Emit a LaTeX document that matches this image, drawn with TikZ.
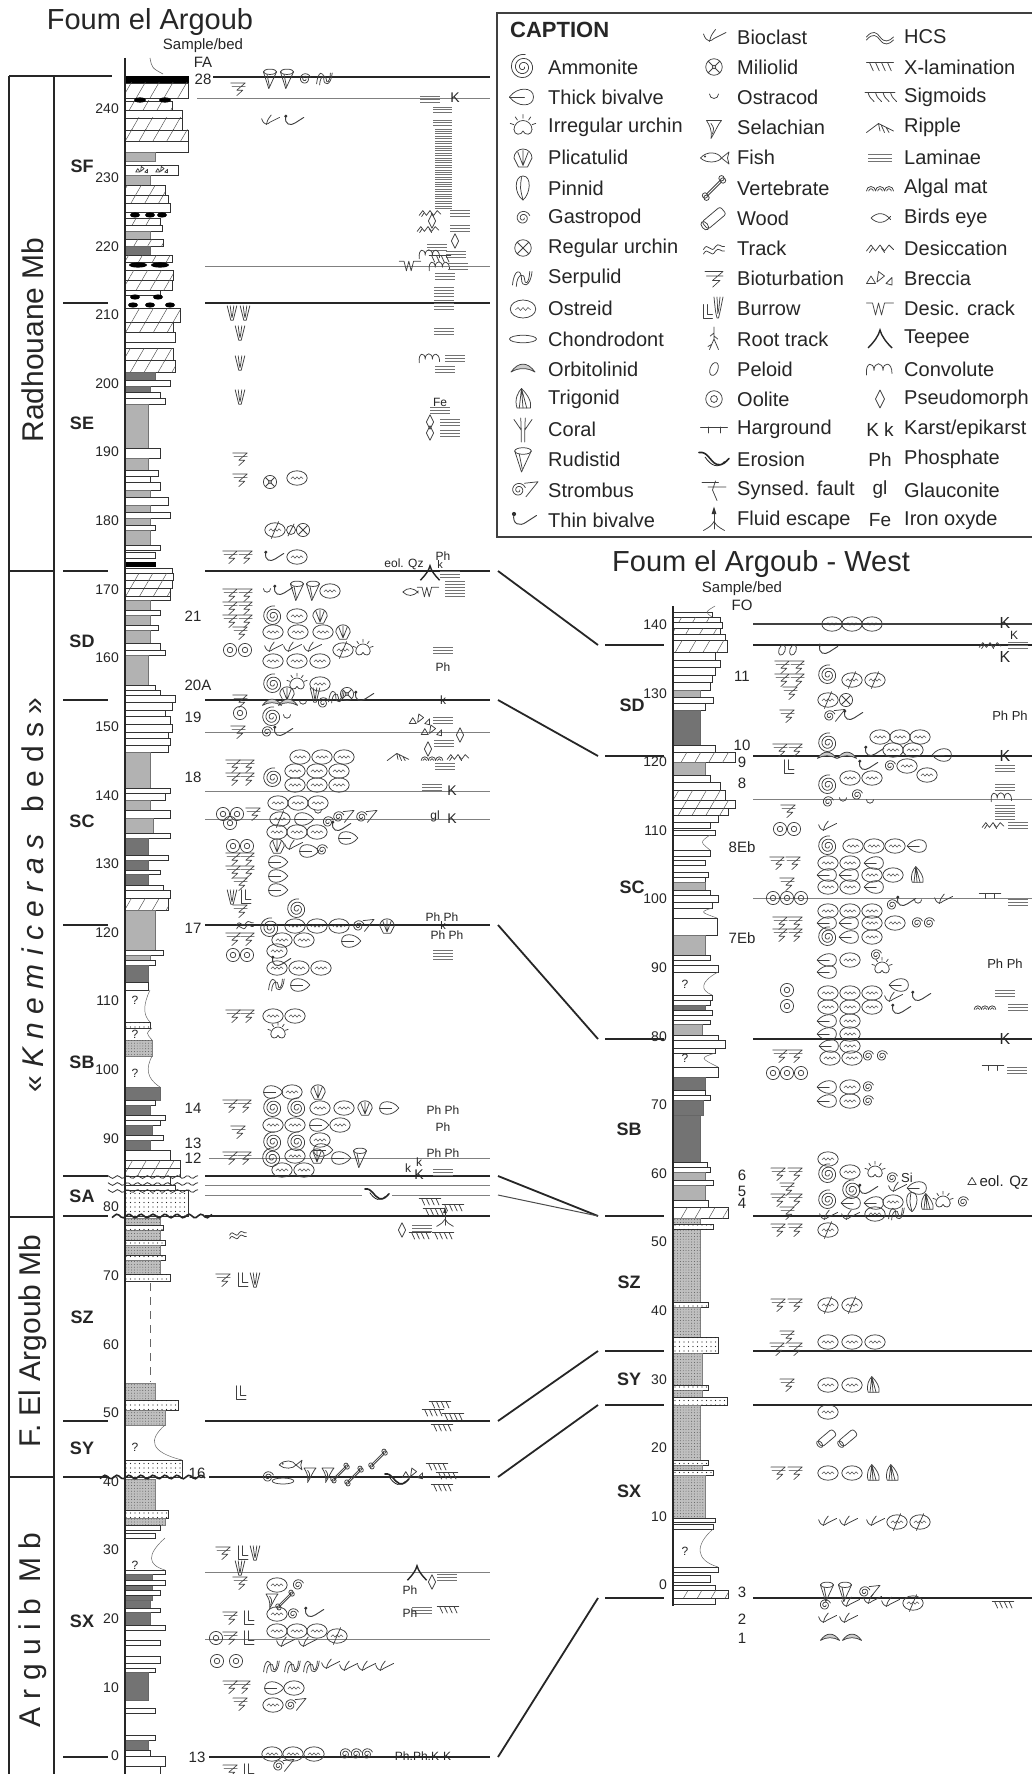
\documentclass[tikz,border=0pt]{standalone}
\usepackage{fontspec}
\setmainfont{Liberation Sans}
\usetikzlibrary{patterns.meta}
\newcommand\myfs[1]{\fontsize{#1}{#1}\selectfont}
\newcommand\symlist[1]{\foreach \kk/\a/\b in {#1}{\edef\mytmp{\noexpand\pic[scale=1.2] at (\a,\b) {\kk};}\mytmp}}
\newcommand\caplist[1]{\foreach \kk/\a/\b in {#1}{\edef\mytmp{\noexpand\pic[scale=1.5] at (\a,\b) {\kk};}\mytmp}}
\newcommand\bedlist[2]{\foreach \ya/\yb/\xc/\kk in {#2}{\edef\mytmp{\noexpand\path[bed\kk] (#1,\ya) rectangle (\xc,\yb);}\mytmp}}
\tikzset{
 sy/.style={draw=black!75,line width=0.75pt,line cap=round,line join=round},
 lamln/.style={draw=black!55,line width=0.6pt},
 thk/.style={draw=black!85,line width=2.4pt},
 thn/.style={draw=black!50,line width=0.8pt},
 dia/.style={draw=black!85,line width=1.8pt},
 bedL/.style={draw=black!80,line width=0.5pt,fill=white},
 bedM/.style={draw=black!55,line width=0.4pt,fill=black!30},
 bedN/.style={draw=black!60,line width=0.4pt,fill=black!55},
 bedD/.style={draw=black!80,line width=0.5pt,fill=white,postaction={pattern={Lines[angle=60,distance=12pt,line width=0.45pt]},pattern color=black!70}},
 bedS/.style={draw=black!80,line width=0.5pt,fill=white,postaction={pattern={Dots[distance=4.5pt,radius=0.55pt]},pattern color=black!85}},
 bedG/.style={draw=black!50,line width=0.4pt,fill=black!25,postaction={pattern={Dots[distance=2.8pt,radius=0.45pt]},pattern color=black!70}},
 bedK/.style={draw=black,fill=black},
 txt/.style={inner sep=0pt,text=black!85},
 ostr/.pic={\draw[sy] (0,0) ellipse [x radius=8.5,y radius=6];
   \draw[sy,line width=0.5pt] (-5,0.5) -- (-3.3,-1) -- (-1.7,1) -- (0,-1) -- (1.7,1) -- (3.3,-1) -- (5,0.5);},
 ostrs/.pic={\draw[sy] (0,0) ellipse [x radius=8.5,y radius=6];
   \draw[sy,line width=0.5pt] (-5,0.5) -- (-3.3,-1) -- (-1.7,1) -- (0,-1) -- (1.7,1) -- (3.3,-1) -- (5,0.5);
   \draw[sy] (-3,7) -- (3,-7);},
 ammo/.pic={\draw[sy] plot[domain=0:1000,samples=50,smooth,variable=\q] ({(1+7.5*\q/1000)*cos(\q)},{(1+7.5*\q/1000)*sin(\q)});},
 gast/.pic={\draw[sy] plot[domain=0:700,samples=30,smooth,variable=\q] ({(0.8+4*\q/700)*cos(\q)},{(0.8+4*\q/700)*sin(\q)});},
 tbiv/.pic={\draw[sy] (9,0) .. controls (4,-7) and (-7,-7) .. (-7,0) .. controls (-7,7) and (4,7) .. (9,0); \draw[sy] (-7,0) -- (3,0);},
 tbivL/.pic={\begin{scope}[xscale=-1]\draw[sy] (9,0) .. controls (4,-7) and (-7,-7) .. (-7,0) .. controls (-7,7) and (4,7) .. (9,0); \draw[sy] (9,0) -- (-1,0);\end{scope}},
 plic/.pic={\draw[sy] (-3,6) -- (-6,0) arc[start angle=180,end angle=360,radius=6] -- (3,6) -- cycle;
   \draw[sy] (0,5) -- (0,-5) (0,5) -- (-3.5,-4) (0,5) -- (3.5,-4);},
 rud/.pic={\draw[sy] (-5.5,-6) -- (-1,8) -- (5.5,-6); \draw[sy] (0,-6) ellipse [x radius=5.5,y radius=2.2]; \draw[sy] (-2.5,-4) -- (-0.5,6);},
 strom/.pic={\begin{scope}[xshift=-3pt]\draw[sy] plot[domain=0:700,samples=30,smooth,variable=\q] ({(0.8+4*\q/700)*cos(\q)},{(0.8+4*\q/700)*sin(\q)});\end{scope}
   \draw[sy] (1,-4.5) -- (10,-5.5) -- (2,4.5);},
 thinb/.pic={\draw[sy,line width=0.95pt] (-6,-4) .. controls (-7.5,3) and (-2,4.5) .. (2,1.5) -- (9,-3); \fill[black!80] (-6,-4) circle [radius=1.4];},
 biocl/.pic={\draw[sy] (-7,-2) .. controls (-5,4) and (-2,3) .. (0,1) -- (8,-3); \draw[sy] (-3,3) .. controls (-2,-1) .. (1,-5);},
 biot/.pic={\draw[sy,line width=0.65pt] (-6,-5) -- (6,-5) (-5,-2) -- (6,-2) (6,-5) -- (-1,1) -- (4,1) -- (-1,5.5);},
 ool/.pic={\draw[sy] (0,0) circle [radius=5.5]; \draw[sy] (0,0) circle [radius=2.3];},
 burV/.pic={\draw[sy] (-4,-6) .. controls (-2,2) .. (-1,6) -- (1,6) .. controls (2,2) .. (4,-6); \draw[sy] (-1.5,-6) .. controls (-0.5,2) .. (0,4) .. controls (0.5,2) .. (1.5,-6);},
 burL/.pic={\draw[sy] (-3,-6) -- (-3,5) -- (5,5) (0,-6) -- (0,2) -- (5,2);},
 burLV/.pic={\draw[sy] (-7,-3) -- (-7,6) -- (-1,6) (-4.5,-3) -- (-4.5,3.5) -- (-1,3.5); \draw[sy] (0,-8) .. controls (1,2) .. (2,6) -- (3,6) .. controls (4,2) .. (6,-8); \draw[sy] (2,-8) .. controls (2.5,2) .. (2.5,3) .. controls (3,2) .. (4,-8);},
 root/.pic={\draw[sy] (0,-8) -- (0,0) (0,0) -- (-3,7) (0,0) -- (3,7) (0,-4) -- (-2.5,-2) (0,-2) -- (2.5,0) (-1.5,3.5) -- (-4,5);},
 lam/.pic={\draw[lamln] (-8,-2.4) -- (8,-2.4) (-8,0) -- (8,0) (-8,2.4) -- (8,2.4);},
 lamq/.pic={\draw[lamln] (-8,-3.6) -- (8,-3.6) (-8,-1.2) -- (8,-1.2) (-8,1.2) -- (8,1.2) (-8,3.6) -- (8,3.6);},
 mil/.pic={\draw[sy] (0,0) circle [radius=5.5]; \draw[sy] (0,0) circle [radius=1.3]; \draw[sy] (45:1.3) -- (45:5.5) (135:1.3) -- (135:5.5) (225:1.3) -- (225:5.5) (315:1.3) -- (315:5.5);},
 rurch/.pic={\draw[sy] (0,0) circle [radius=5.5]; \draw[sy] (-3.9,-3.9) -- (3.9,3.9) (-3.9,3.9) -- (3.9,-3.9);},
 iurch/.pic={\draw[sy] (-6,1) arc[start angle=180,end angle=360,radius=6];
   \draw[sy] (-6,1) .. controls (-6,5) and (-1,5) .. (0,2) .. controls (1,5) and (6,5) .. (6,1);
   \draw[sy] (200:6.5) -- (200:9) (235:6.5) -- (235:9) (270:6.5) -- (270:9) (305:6.5) -- (305:9) (340:6.5) -- (340:9);},
 serp/.pic={\draw[sy] (-7,4) .. controls (-6,-7) and (-1,-7) .. (-1,0) .. controls (-1,6) and (5,6) .. (6,-5);
   \draw[sy] (-4.5,5) .. controls (-4,-4) and (1,-4) .. (1,0) .. controls (1,4) and (4,4) .. (4.5,-5);},
 orb/.pic={\draw[sy,fill=black!20] (-8,2) .. controls (-3,-5) and (3,-5) .. (8,2) .. controls (3,-1) and (-3,-1) .. (-8,2);},
 trig/.pic={\draw[sy] (-4,6) .. controls (-6,0) and (-3,-5) .. (-1,-7) .. controls (3,-3) and (6,2) .. (5,6) -- cycle;
   \draw[sy] (-1,-7) -- (0,6) (-1,-7) -- (2.5,6) (-1,-7) -- (-2.5,6);},
 pinn/.pic={\draw[sy] (0,8) .. controls (-6,4) and (-6,-8) .. (0,-8) .. controls (6,-8) and (5,4) .. (0,8); \draw[sy] (0,8) .. controls (-2,0) .. (-1,-7);},
 coral/.pic={\draw[sy] (-1.2,8) -- (-1.2,0) -- (-6,-7) (1.2,8) -- (1.2,0) -- (6,-7) (-1.2,0) -- (-1.5,-8) (1.2,0) -- (1.5,-8);},
 chond/.pic={\draw[sy] (0,0) ellipse [x radius=9,y radius=2.5];},
 ostrac/.pic={\draw[sy] (-3,-2) arc[start angle=180,end angle=0,radius=3];},
 selach/.pic={\draw[sy] (-5,-5) -- (5,-5) .. controls (3,-3) and (1,2) .. (-2,7) .. controls (-1,2) and (-3,-2) .. (-5,-5); \draw[sy] (-2,-3) .. controls (0,0) .. (-1,4);},
 fish/.pic={\draw[sy] (-9,0) .. controls (-5,-5) and (3,-4) .. (5,0) .. controls (3,3) and (-5,4) .. (-9,0); \draw[sy] (5,0) -- (10,-4) -- (9,0) -- (10,4) -- cycle; \fill[black!75] (-6,-1) circle [radius=0.8];},
 vert/.pic={\draw[sy] (-4,5) -- (5,-4) (-5,4) -- (4,-5); \draw[sy] (-6,5) circle [radius=1.8] (-5,6.5) circle [radius=1.8] (6,-5) circle [radius=1.8] (5,-6.5) circle [radius=1.8];},
 wood/.pic={\draw[sy,rotate=40,rounded corners=2.5pt] (-8,-3.2) rectangle (8,3.2); \draw[sy,rotate=40] (-8,0) ellipse [x radius=2,y radius=3.2];},
 trk/.pic={\draw[sy] (-7,1) .. controls (-4,-5) and (-2,5) .. (1,-1) .. controls (3,-4) and (5,0) .. (7,-1); \draw[sy] (-7,4) .. controls (-4,-2) and (-2,8) .. (1,2) .. controls (3,-1) and (5,3) .. (7,2);},
 pel/.pic={\draw[sy,rotate=-20] (0,0) ellipse [x radius=2.6,y radius=4.5];},
 hardg/.pic={\draw[sy] (-9,-2) -- (9,-2) (-4,-2) -- (-4,2) (4,-2) -- (4,2);},
 eros/.pic={\draw[black!85,line width=1.6pt,line cap=round] (-10,-5) .. controls (-4,-6) and (-3,1) .. (2,3) .. controls (6,4) and (8,1) .. (10,-1); \draw[black!85,line width=0.8pt] (-6,-2) .. controls (-2,4) and (3,6) .. (7,1);},
 sfault/.pic={\draw[sy] (-8,-5) -- (3,-5) (-4,-2) -- (8,-2) (1,-6) -- (-1,0) -- (2,7);},
 fluid/.pic={\draw[sy] (0,-5) -- (0,6); \fill[black!80] (0,-9) -- (-1.6,-4) -- (1.6,-4) -- cycle; \draw[sy] (0,1) .. controls (-2,4) .. (-7,7) (0,1) .. controls (2,4) .. (7,7);},
 hcs/.pic={\draw[sy] (-9,0) .. controls (-5,-5) and (-2,-3) .. (0,0) .. controls (3,4) and (6,3) .. (9,0); \draw[sy] (-9,2) .. controls (-5,-3) and (-2,-1) .. (0,2) .. controls (3,6) and (6,5) .. (9,2);},
 xlam/.pic={\draw[sy] (-9,-3) -- (9,-3) (-7,-3) -- (-4.5,2.5) (-3,-3) -- (-0.5,2.5) (1,-3) -- (3.5,2.5) (5,-3) -- (7.5,2.5);},
 sigm/.pic={\draw[sy] (-10,-3) -- (10,-3) (-8,-3) .. controls (-7,0) .. (-4,3) (-3,-3) .. controls (-2,0) .. (1,3) (2,-3) .. controls (3,0) .. (6,3) (7,-3) .. controls (8,0) .. (11,3);},
 ripple/.pic={\draw[sy] (-9,3) -- (-1,-3) -- (9,2) (1,-1.5) -- (3,3) (4,-0.5) -- (6,3) (-1,-3) -- (0,2);},
 algal/.pic={\draw[sy] (-9,2) arc[start angle=180,end angle=360,radius=3] (-3,2) arc[start angle=180,end angle=360,radius=3] (3,2) arc[start angle=180,end angle=360,radius=3]; \draw[sy] (-7.5,2) arc[start angle=180,end angle=360,radius=1.5] (-1.5,2) arc[start angle=180,end angle=360,radius=1.5] (4.5,2) arc[start angle=180,end angle=360,radius=1.5];},
 birds/.pic={\draw[sy] (-6,0) .. controls (-2,-4) and (3,-4) .. (7,1) (-6,0) .. controls (-2,4) and (3,4) .. (7,-1);},
 desic/.pic={\draw[sy] (-9,2) -- (-6,-2) -- (-3,2) -- (0,-2) -- (3,2) -- (6,-2) -- (9,1); \draw[sy] (-7,3) -- (-5,0) (1,0) -- (3,3);},
 brec/.pic={\draw[sy] (-9,3) -- (-6,-2) -- (-3,3) -- cycle (-2,2) -- (-1,-5) -- (3,-2) -- cycle (4,3) -- (8,-1) -- (8,4) -- cycle;},
 tri/.pic={\draw[sy] (-3.5,3) -- (0,-3) -- (3.5,3) -- cycle;},
 dcrack/.pic={\draw[sy] (-9,-4) -- (-5,-4) -- (-3,4) -- (-1,-4) -- (1,4) -- (3,-4) -- (9,-4);},
 teep/.pic={\draw[black!85,line width=1.4pt] (-8,6) .. controls (-4,2) and (-1,-2) .. (0,-6) .. controls (1,-2) and (4,2) .. (8,6);},
 conv/.pic={\draw[sy] (-9,4) .. controls (-10,-5) and (-4,-5) .. (-4,1) .. controls (-4,-5) and (2,-5) .. (2,1) .. controls (2,-5) and (8,-5) .. (8,3);},
 pseudo/.pic={\draw[sy] (0,-6) -- (3,0) -- (0,6) -- (-3,0) -- cycle;},
}
\begin{document}
\begin{tikzpicture}[x=1pt,y=-1pt]
\useasboundingbox (0,0) rectangle (1032,1774);
\fill[white] (0,0) rectangle (1032,1774);

% ===================== LEFT SECTION =====================
\node[txt,font=\myfs{29}] (t1) at (150,22) {Foum el Argoub};
\node[txt,font=\myfs{15}] (sb1) at (203,46) {Sample/bed};
\node[txt,font=\myfs{15}] (fa) at (203,62) {FA};
\draw[black!60,line width=0.6pt] (150,58) .. controls (152,68) .. (163,74);

% stage frame
\draw[black!85,line width=1.3pt] (9,76) -- (112,76);
\draw[black!85,line width=1.3pt] (9,76) -- (9,1774) (54,76) -- (54,1774);
\foreach \yy in {571,1217,1477} \draw[black!85,line width=1.3pt] (9,\yy) -- (54,\yy);
\foreach \yy in {303,571,700,925,1176,1216,1421,1477,1757} \draw[black!85,line width=1.6pt] (63,\yy) -- (108,\yy);

\node[txt,rotate=90,font=\myfs{30}] (st1) at (33,340) {Radhouane Mb};
\node[txt,rotate=90,font=\myfs{30}] (st2) at (33,895) {« \textit{K n e m i c e r a s}\, \ b e d s »};
\node[txt,rotate=90,font=\myfs{30}] (st3) at (33,1341) {F. El Argoub Mb};
\node[txt,rotate=90,font=\myfs{30}] (st4) at (33,1630) {A r g u i b \ M b};

\foreach \u/\yy in {SF/166,SE/423,SD/641,SC/821,SB/1062,SA/1196,SZ/1317,SY/1448,SX/1621}
  \node[txt,font=\myfs{18}\bfseries] at (82,\yy) {\u};

% left lithology column
\bedlist{125}{76/83/188/K,83/98/188/D,101/110/172/D,110/118/182/L,118/130/182/D,130/141/188/D,141/152/188/L,
152/161/155/M,165/175/178/L,175/185/150/M,185/195/165/D,195/203/168/D,203/212/170/L,
218/225/160/D,225/231/162/L,231/239/150/M,239/246/163/D,246/255/150/N,255/262/172/D,
270/280/173/D,280/290/172/D,290/295/160/L,
308/322/180/D,322/332/173/D,332/342/175/L,348/360/173/D,360/372/175/D,372/380/155/N,380/386/170/L,386/392/150/N,392/398/160/L,398/404/165/L,
404/448/148/M,448/458/160/L,458/470/148/M,470/476/158/L,476/482/150/L,482/490/160/L,490/497/150/M,497/505/168/L,505/512/150/M,512/518/170/L,518/525/150/M,525/530/155/L,530/545/150/M,545/550/160/L,552/558/155/L,562/566/155/K,568/573/172/L,
573/580/173/D,580/588/172/D,588/596/170/D,596/600/170/L,600/610/150/M,610/615/160/L,615/625/150/M,625/630/158/L,630/643/150/M,643/650/160/L,650/655/165/L,655/685/148/M,685/690/155/L,690/695/160/L,
695/702/175/L,702/710/172/L,710/716/165/L,716/724/170/L,724/732/172/L,732/738/168/L,738/745/170/L,745/752/168/L,
752/788/150/M,788/793/170/L,793/800/165/L,800/810/150/M,810/818/170/L,818/833/153/M,833/838/170/L,838/855/148/N,855/860/168/L,860/870/148/N,870/874/160/L,874/885/148/N,885/890/163/L,890/898/170/L,898/910/168/D,
910/950/155/M,950/955/163/L,955/960/150/M,960/965/155/L,965/982/148/N,982/990/148/L,
1022/1028/150/S,1040/1056/152/G,
1087/1100/160/N,1100/1105/155/L,1105/1115/150/N,1115/1120/165/L,1120/1125/160/L,1125/1135/152/N,1135/1140/163/L,1140/1150/150/N,1150/1160/170/L,1160/1168/180/D,1168/1176/180/D,1176/1185/170/L,1185/1190/175/L,1190/1216/188/S,
1218/1225/160/G,1225/1230/163/S,1230/1240/160/G,1240/1245/165/S,1245/1255/160/G,1255/1260/165/S,1260/1274/160/G,1274/1281/170/S,
1383/1400/155/G,1400/1410/178/S,1410/1425/165/G,1460/1477/182/S,
1479/1510/155/G,1510/1518/168/S,1518/1525/165/G,1525/1530/160/L,1533/1538/155/L,
1570/1574/165/L,1574/1600/152/N,1580/1585/165/L,1590/1595/160/L,1600/1608/150/N,1608/1612/160/L,1612/1625/150/N,1625/1630/165/L,1640/1645/160/L,1656/1663/160/L,1668/1672/155/L,1672/1700/148/N,1708/1713/155/L,1735/1740/155/L,1740/1750/148/N,1750/1756/150/L,1756/1766/165/L,1766/1774/160/L}
% black lenses
\foreach \xx/\yy/\rr in {140/100/6,165/100/6,135/215/5,150/215/5,162/215/5,138/265/9,160/265/9,135/297/5,158/297/5,133/305/5,150/305/5,170/305/5}
  \fill[black] (\xx,\yy) ellipse [x radius=\rr,y radius=2.6];
\pic[scale=0.7] at (142,170) {brec}; \pic[scale=0.7] at (162,170) {brec};
% weathering profile
\draw[black!60,line width=0.5pt] (150,990) .. controls (143,1005) and (143,1015) .. (150,1022) (152,1028) .. controls (146,1033) .. (152,1040) (152,1056) .. controls (146,1068) and (146,1078) .. (160,1087);
\draw[black!60,line width=0.5pt,dash pattern=on 8pt off 6pt] (150,1283) -- (150,1382);
\draw[black!60,line width=0.5pt] (165,1425) .. controls (148,1440) and (150,1452) .. (182,1460) (165,1538) .. controls (146,1555) and (148,1565) .. (165,1570);
% wavy surfaces
\draw[black!80,line width=0.8pt] plot[domain=108:198,samples=40,variable=\q] (\q,{1177+1.4*sin(\q*36)});
\draw[black!80,line width=0.8pt] plot[domain=108:198,samples=40,variable=\q] (\q,{1184+1.4*sin(\q*36)});
\draw[black!80,line width=0.8pt] plot[domain=108:198,samples=40,variable=\q] (\q,{1191+1.4*sin(\q*36)});
\draw[black!85,line width=1.6pt] plot[domain=112:212,samples=45,variable=\q] (\q,{1216+1.8*sin(\q*30)});
\draw[black!85,line width=1.6pt] plot[domain=100:205,samples=45,variable=\q] (\q,{1477+1.8*sin(\q*30)});
% axis
\draw[black!85,line width=1.5pt] (125,58) -- (125,1774);
\foreach \d in {0,10,...,240} \node[txt,font=\myfs{14},anchor=east] at (119,{1756-6.8625*\d}) {\d};
\foreach \yy in {1000,1034,1073,1447,1565} \node[txt,font=\myfs{12}] at (135,\yy) {?};

% sample numbers
\foreach \s/\xx/\yy in {28/203/79,21/193/616,20A/198/685,19/193/717,18/193/777,17/193/928,14/193/1108,13/193/1143,12/193/1158,16/197/1473,13/197/1757}
  \node[txt,font=\myfs{15}] at (\xx,\yy) {\s};

% horizontal lines left section
\draw[thk] (213,77) -- (490,77);
\foreach \yy in {303,571,700,925,1176,1216,1421} \draw[thk] (205,\yy) -- (490,\yy);
\draw[thk] (209,1477) -- (490,1477);
\draw[thk] (209,1757) -- (490,1757);
\foreach \yy in {266,732,791,819,1185,1572,1639} \draw[thn] (205,\yy) -- (490,\yy);
\draw[thn] (197,98) -- (490,98);
\draw[thn] (209,1158) -- (490,1158);
\draw[thn] (205,1195) -- (362,1195) (392,1195) -- (490,1195);

% correlation lines
\draw[dia] (498,571) -- (598,645);
\draw[dia] (498,700) -- (598,756);
\draw[dia] (498,925) -- (598,1039);
\draw[dia] (498,1176) -- (598,1216);
\draw[draw=black!70,line width=1pt] (498,1195) -- (598,1216);
\draw[dia] (498,1421) -- (598,1351);
\draw[dia] (498,1477) -- (598,1405);
\draw[dia] (498,1757) -- (598,1598);

% left symbols
\symlist{biot/238/89,rud/270/79,rud/287/79,gast/305/79,serp/325/79,
biocl/270/121,thinb/293/121,
burV/232/313,burV/245/313,burV/240/333,burV/240/363,burV/240/397,
biot/240/459,biot/240/480,mil/270/482,ostr/297/478,
ostrs/275/530,rurch/303/530,
biot/230/557,biot/245/557,thinb/273/557,ostr/297/557,
biot/230/595,biot/245/595,biot/230/608,biot/245/608,biot/230/621,biot/245/621,biot/240/633,
ostrac/267/591,thinb/282/591,rud/297/591,rud/313/591,ostr/330/591,
ammo/273/616,ostr/297/616,plic/320/616,
ostr/273/632,ostr/298/632,ostr/323/632,plic/343/632,
ool/230/650,ool/245/650,biocl/273/648,biocl/292/648,biocl/312/648,ostrs/343/650,iurch/363/650,
ostr/273/661,ostr/297/661,ostr/320/661,
ammo/273/684,iurch/297/684,ostr/320/684,
plic/287/694,burV/315/695,serp/337/697,mil/347/694,thinb/363/697,
orb/272/703,orb/288/703,ostrac/303/703,gast/323/703,biot/240/701,
ool/240/713,ammo/272/717,ostrac/287/717,
biot/238/732,gast/267/732,thinb/282/732,
ostr/300/757,ostr/322/757,ostr/344/757,
biot/233/766,biot/247/766,biot/233/779,biot/247/779,
ammo/273/778,ostr/295/771,ostr/317/771,ostr/339/771,ostr/295/785,ostr/317/785,ostr/339/785,
ostr/278/803,ostr/298/803,ostr/318/803,
ool/223/814,ool/237/814,ool/230/823,biot/253/814,ostrs/280/819,tbiv/303/819,ostrac/318/812,gast/328/822,strom/342/817,strom/365/817,thinb/340/827,
ostr/277/832,ostr/297/832,ostr/317/832,tbiv/347/838,
ool/233/846,ool/247/846,plic/277/846,biocl/293/846,tbiv/308/851,gast/322/850,
biot/233/859,biot/247/859,tbiv/277/862,
biot/233/872,biot/247/872,tbiv/277/876,
biot/240/884,burV/232/897,burL/245/897,tbiv/277/890,
ammo/297/909,biot/240/911,
trk/245/924,ammo/270/928,ostr/295/926,ostr/317/926,ostr/339/926,strom/362/926,plic/387/926,
biot/233/939,biot/247/939,ostr/282/940,ostr/304/940,tbiv/350/941,
ool/233/955,ool/247/955,ostr/277/951,thinb/280/962,
ostr/277/968,ostr/299/968,ostr/321/968,
serp/277/985,tbiv/299/985,
biot/233/1016,biot/247/1016,ostr/273/1016,ostr/295/1016,
iurch/278/1033,
tbiv/272/1092,ostr/292/1092,plic/318/1092,
biot/230/1106,biot/244/1106,ammo/273/1108,ammo/297/1108,ostr/320/1108,ostr/344/1108,plic/365/1108,tbiv/388/1108,
ostr/273/1125,ostr/295/1125,tbiv/318/1125,ostr/340/1125,biot/238/1132,
ammo/273/1142,ammo/297/1142,ostr/320/1140,tbiv/322/1150,
biot/230/1158,biot/244/1158,ammo/272/1158,ostr/295/1156,plic/317/1156,tbiv/340/1158,rud/360/1158,
ostr/282/1170,ostr/304/1170,
trk/238/1234,
biot/223/1280,burL/242/1280,burV/255/1280,
burL/240/1393,
gast/268/1477,chond/283/1481,fish/290/1465,selach/310/1474,selach/328/1474,vert/340/1473,vert/354/1476,vert/378/1459,eros/397/1480,brec/413/1474,xlam/437/1467,xlam/447/1476,xlam/442/1488,
biot/223/1553,burL/242/1553,burV/255/1553,
burV/240/1568,biot/240/1583,
teep/417/1573,pseudo/432/1582,lam/447/1577,lam/422/1610,xlam/448/1610,
ostr/277/1585,gast/298/1585,selach/272/1600,vert/285/1600,ostr/277/1614,gast/293/1614,thinb/313/1613,
biot/230/1618,burL/248/1618,
ool/216/1638,biot/230/1638,burL/248/1638,
ostr/277/1631,ostr/297/1631,ostr/317/1631,biocl/285/1643,biocl/307/1643,ostrs/337/1636,
ool/217/1661,ool/236/1661,
serp/272/1667,serp/293/1667,serp/312/1667,biocl/330/1665,biocl/348/1667,biocl/366/1667,biocl/384/1667,
biot/230/1687,biot/243/1687,tbiv/273/1688,ostr/294/1688,
biot/240/1704,ostr/273/1705,strom/294/1705,
ostr/272/1754,ostr/293/1754,ostr/314/1754,gast/345/1754,gast/356/1754,gast/367/1754,strom/282/1766,
biot/230/1771,burL/248/1771}
% small slashed circle
\draw[sy] (291,530) circle [radius=4.5]; \draw[sy] (288,536) -- (294,524);

% left right-hand annotations
\foreach \yy in {107,109.5,112,120,122.5,125} \draw[lamln] (433,\yy) -- (452,\yy);
\foreach \yy in {129,131.4,...,209} \draw[lamln] (435,\yy) -- (452,\yy);
\symlist{lam/430/99,desic/430/213,lam/460/213,pseudo/432/221,desic/428/229,lam/460/228,lam/437/247,pseudo/455/241,conv/430/254,lam/456/254,xlam/440/259,
dcrack/410/266,conv/440/266,lam/458/266,lam/445/276,lamq/444/292,lamq/444/305,lam/444/331,conv/430/358,lam/455/358,lam/445/369,
lam/440/410,pseudo/430/422,lam/450/422,pseudo/430/433,lam/450/433,
teep/430/573,lam/450/574,birds/410/592,dcrack/428/592,lam/455/584,lam/455/593,
lam/443/650,
brec/420/720,lam/443/720,brec/432/731,pseudo/460/735,pseudo/428/749,lam/444/743,ripple/398/757,algal/432/758,desic/458/757,lam/445/766,
lam/432/787,lamq/443/955,lam/443/1172,
eros/377/1195,xlam/430/1202,xlam/434/1212,xlam/453/1208,fluid/445/1218,pseudo/402/1230,lam/422/1228,xlam/420/1236,xlam/443/1236,
xlam/440/1405,xlam/433/1413,xlam/453/1417,xlam/442/1428}
\foreach \s/\xx/\yy/\f in {K/455/98/14,Fe/440/402/12,{eol. Qz}/404/564/12,Ph/443/556/12,k/440/565/11,Ph/443/667/12,k/443/700/12,K/452/791/14,gl/435/816/12,K/452/819/14,
{Ph Ph}/442/917/12,k/443/926/11,{Ph Ph}/447/935/12,{Ph Ph}/443/1110/12,Ph/443/1127/12,{Ph Ph}/443/1153/12,k/408/1168/12,k/419/1162/12,K/419/1175/14,Ph/410/1590/12,Ph/410/1613/12,{Ph.Ph.K-K}/423/1756/12}
  \node[txt,font=\myfs{\f}] at (\xx,\yy) {\s};

% ===================== CAPTION =====================
\draw[draw=black!75,line width=1.6pt] (497,13) rectangle (1045,537);
\node[txt,font=\myfs{22}\bfseries,anchor=west] (cap) at (510,30) {CAPTION};
\foreach \s [count=\i] in {Ammonite,Thick bivalve,Irregular urchin,Plicatulid,Pinnid,Gastropod,Regular urchin,Serpulid,Ostreid,Chondrodont,Orbitolinid,Trigonid,Coral,Rudistid,Strombus,Thin bivalve}
  \node[txt,font=\myfs{20},anchor=west] at (548,{37+30.2*\i}) {\s};
\foreach \s [count=\i from 0] in {Bioclast,Miliolid,Ostracod,Selachian,Fish,Vertebrate,Wood,Track,Bioturbation,Burrow,Root track,Peloid,Oolite,Harground,Erosion,Synsed. fault,Fluid escape}
  \node[txt,font=\myfs{20},anchor=west] at (737,{37+30.2*\i}) {\s};
\foreach \s [count=\i from 0] in {HCS,X-lamination,Sigmoids,Ripple,Laminae,Algal mat,Birds eye,Desiccation,Breccia,Desic. crack,Teepee,Convolute,Pseudomorph,Karst/epikarst,Phosphate,Glauconite,Iron oxyde}
  \node[txt,font=\myfs{20},anchor=west] at (904,{37+30.2*\i}) {\s};
\caplist{ammo/523/67,tbivL/523/97,iurch/523/128,plic/523/158,pinn/523/188,gast/523/218,rurch/523/248,serp/523/279,ostr/523/309,chond/523/339,orb/523/369,trig/523/399,coral/523/430,rud/523/460,strom/523/490,thinb/523/520,
biocl/714/37,mil/714/67,ostrac/714/97,selach/714/128,fish/714/158,vert/714/188,wood/714/218,trk/714/248,biot/714/279,burLV/714/309,root/714/339,pel/714/369,ool/714/399,hardg/714/430,eros/714/460,sfault/714/490,fluid/714/520,
hcs/880/37,xlam/880/67,sigm/880/97,ripple/880/128,lam/880/158,algal/880/188,birds/880/218,desic/880/248,brec/880/279,dcrack/880/309,teep/880/339,conv/880/369,pseudo/880/399}
\foreach \s/\yy in {K k/430,Ph/460,gl/490,Fe/520} \node[txt,font=\myfs{19}] at (880,\yy) {\s};

% ===================== RIGHT SECTION =====================
\node[txt,font=\myfs{29}] (t2) at (761,564) {Foum el Argoub - West};
\node[txt,font=\myfs{15}] (sb2) at (742,589) {Sample/bed};
\node[txt,font=\myfs{15}] (fo) at (742,605) {FO};

\bedlist{673}{612/617/712/L,617/622/720/D,622/628/722/L,628/634/720/D,634/640/725/L,640/652/727/D,652/660/715/L,660/667/720/L,667/675/715/L,675/682/712/L,682/690/710/L,690/697/700/M,697/703/713/L,703/710/705/L,710/745/700/N,745/752/715/L,752/762/735/D,762/775/705/M,775/782/710/L,782/790/720/L,790/800/725/D,800/808/735/D,808/815/728/D,815/822/718/L,822/828/710/L,830/835/715/L,850/856/710/L,860/865/705/L,872/877/708/L,877/882/705/L,882/890/705/M,890/895/710/L,895/902/718/L,902/908/712/L,918/935/717/L,935/955/705/M,955/960/710/L,965/972/718/L,995/1000/712/L,1000/1005/710/L,1005/1010/705/N,1010/1015/712/L,1020/1024/710/L,1024/1035/702/M,1035/1040/718/L,1040/1048/725/L,1048/1053/715/L,1067/1077/718/L,1077/1090/705/N,1090/1095/705/L,1095/1100/710/L,1100/1115/703/N,1115/1162/700/N,1162/1167/707/L,1167/1172/710/L,1172/1180/705/M,1180/1185/713/L,1185/1200/705/M,1200/1207/708/L,1207/1218/728/D,
1218/1302/700/G,1224/1229/713/S,1302/1307/708/S,1307/1337/700/G,1337/1353/718/S,1353/1385/702/G,1385/1390/708/S,1390/1397/702/G,1397/1405/727/S,1405/1460/700/G,1460/1465/708/S,1465/1470/702/G,1470/1475/713/S,1475/1518/705/G,1518/1522/715/L,1524/1529/713/L,1567/1572/718/L,1575/1582/710/L,1585/1590/715/L,1590/1598/728/D,1598/1604/715/L}
\draw[black!60,line width=0.5pt] (715,606) .. controls (705,612) .. (712,617) (710,835) .. controls (700,842) .. (710,850) (712,908) .. controls (700,912) .. (717,918) (718,972) .. controls (700,982) and (700,990) .. (712,995) (715,1053) .. controls (700,1058) .. (718,1067) (713,1529) .. controls (695,1545) and (695,1560) .. (718,1567);
\draw[black!85,line width=1.7pt] (673,606) -- (673,1606);
\foreach \d in {0,10,...,140} \node[txt,font=\myfs{14},anchor=east] at (667,{1585-6.86*\d}) {\d};
\foreach \yy in {984,1058,1551} \node[txt,font=\myfs{12}] at (685,\yy) {?};
\foreach \u/\xx/\yy in {SD/632/705,SC/632/887,SB/629/1129,SZ/629/1282,SY/629/1379,SX/629/1491}
  \node[txt,font=\myfs{18}\bfseries] at (\xx,\yy) {\u};
\foreach \s/\yy in {11/676,10/745,9/762,8/783,8Eb/847,7Eb/938,6/1175,5/1191,4/1203,3/1592,2/1619,1/1638}
  \node[txt,font=\myfs{15}] at (742,\yy) {\s};

\foreach \yy in {645,756,1039,1216,1351,1405,1598} {\draw[thk] (605,\yy) -- (664,\yy); \draw[thk] (753,\yy) -- (1032,\yy);}
\draw[draw=black!75,line width=1.4pt] (753,624) -- (1032,624);
\foreach \yy in {799,898} \draw[thn] (753,\yy) -- (1032,\yy);

\symlist{ostr/832/624,ostr/852/624,ostr/872/624,
pel/782/650,pel/793/650,thinb/827/650,desic/990/645,lam/1018/645,
biot/782/667,biot/797/667,biot/782/680,biot/797/680,biot/790/693,
ammo/828/675,ostrs/852/680,ostrs/875/680,
ostrs/828/700,rurch/846/700,
biot/787/716,strom/833/716,thinb/852/716,
ammo/828/743,ostr/880/737,ostr/900/737,ostr/920/737,
biot/780/750,biot/795/750,orb/827/756,orb/847/756,thinb/873/752,ostr/893/750,ostr/913/750,tbivL/943/755,
burL/788/767,thinb/867/766,gast/890/766,ostr/907/766,ostr/927/775,lam/1005/768,
ammo/828/785,ostr/850/778,ostr/872/778,lam/1005/787,
gast/828/802,ostrac/843/800,gast/857/795,ostrac/870/802,conv/1002/797,lam/1005/808,
biot/788/811,lam/1005/816,desic/993/825,lam/1018/825,
ool/780/829,ool/794/829,biocl/827/827,
ammo/828/846,ostr/853/846,ostr/874/846,ostr/895/846,tbivL/918/846,
biot/777/863,biot/793/863,ostr/828/863,ostr/850/863,tbivL/875/863,
tbivL/828/875,tbivL/850/875,ostr/872/875,ostr/893/875,trig/917/875,
biot/787/884,ostr/828/887,ostr/850/887,tbivL/875/887,
ool/773/898,ool/787/898,ool/801/898,thinb/905/902,ostrac/918/902,biocl/943/900,hardg/990/896,lam/1018/902,
ostr/828/911,ostr/850/911,ostr/872/911,gast/892/905,
biot/780/923,biot/795/923,tbivL/828/923,tbivL/850/923,ostr/872/923,ostr/895/923,gast/917/923,gast/929/923,
biot/780/935,biot/795/935,ammo/828/937,tbivL/850/937,ostr/872/937,
tbivL/828/960,ostr/850/960,gast/876/955,iurch/882/968,
tbivL/828/972,
ool/787/990,ostr/828/993,ostr/850/993,ostr/872/993,tbivL/900/985,biocl/893/998,thinb/920/997,
ool/787/1006,ostr/828/1007,ostr/850/1007,ostr/872/1007,thinb/900/1010,
lam/1005/993,algal/985/1007,lam/1018/1007,
tbivL/828/1021,ostr/850/1021,
tbivL/828/1034,ostr/850/1034,
tbivL/830/1046,ostr/850/1046,
biot/780/1056,biot/795/1056,ostr/830/1058,ostr/852/1058,gast/868/1056,gast/882/1056,
hardg/993/1068,lam/1017/1070,
ool/773/1073,ool/787/1073,ool/801/1073,
tbivL/828/1087,ostr/850/1087,gast/868/1087,
tbivL/828/1101,ostr/850/1101,gast/868/1101,
ostr/828/1159,
biot/778/1174,biot/795/1174,ammo/828/1174,ostr/850/1172,iurch/875/1172,gast/892/1178,
biot/787/1189,ammo/852/1190,thinb/867/1190,biocl/897/1188,tbivL/918/1188,
biot/778/1200,biot/795/1200,ammo/828/1200,tbivL/852/1203,tbivL/875/1203,ostr/893/1202,pinn/912/1202,trig/927/1202,iurch/943/1202,gast/963/1202,
tri/972/1181,
biot/787/1213,biocl/828/1216,biocl/850/1216,ostr/875/1214,serp/897/1214,
biot/778/1230,biot/795/1230,ostrs/828/1230,
biot/778/1305,biot/795/1305,ostrs/828/1305,ostrs/852/1305,
biot/787/1337,biot/777/1349,biot/795/1349,ostr/828/1342,ostr/852/1342,ostr/875/1342,
biot/787/1385,ostr/828/1385,ostr/852/1385,trig/873/1385,
ostr/828/1412,
wood/827/1438,wood/848/1438,
biot/778/1473,biot/795/1473,ostr/828/1473,ostr/852/1473,trig/873/1473,trig/892/1473,
biocl/827/1522,biocl/848/1522,biocl/875/1522,ostrs/897/1522,ostrs/920/1522,
rud/827/1592,rud/845/1592,strom/868/1592,gast/825/1605,biocl/850/1603,biocl/872/1600,biocl/890/1603,ostrs/913/1603,xlam/1003/1605,
biocl/827/1619,biocl/848/1619,
orb/830/1638,orb/852/1638}
\foreach \s/\xx/\yy/\f in {K/1005/623/16,K/1014/635/12,K/1005/657/16,{Ph Ph}/1010/716/13,K/1005/756/16,{Ph Ph}/1005/964/13,K/1005/1039/16,Si/907/1178/13,{eol. Qz}/1004/1182/15}
  \node[txt,font=\myfs{\f}] at (\xx,\yy) {\s};
\end{tikzpicture}
\end{document}
